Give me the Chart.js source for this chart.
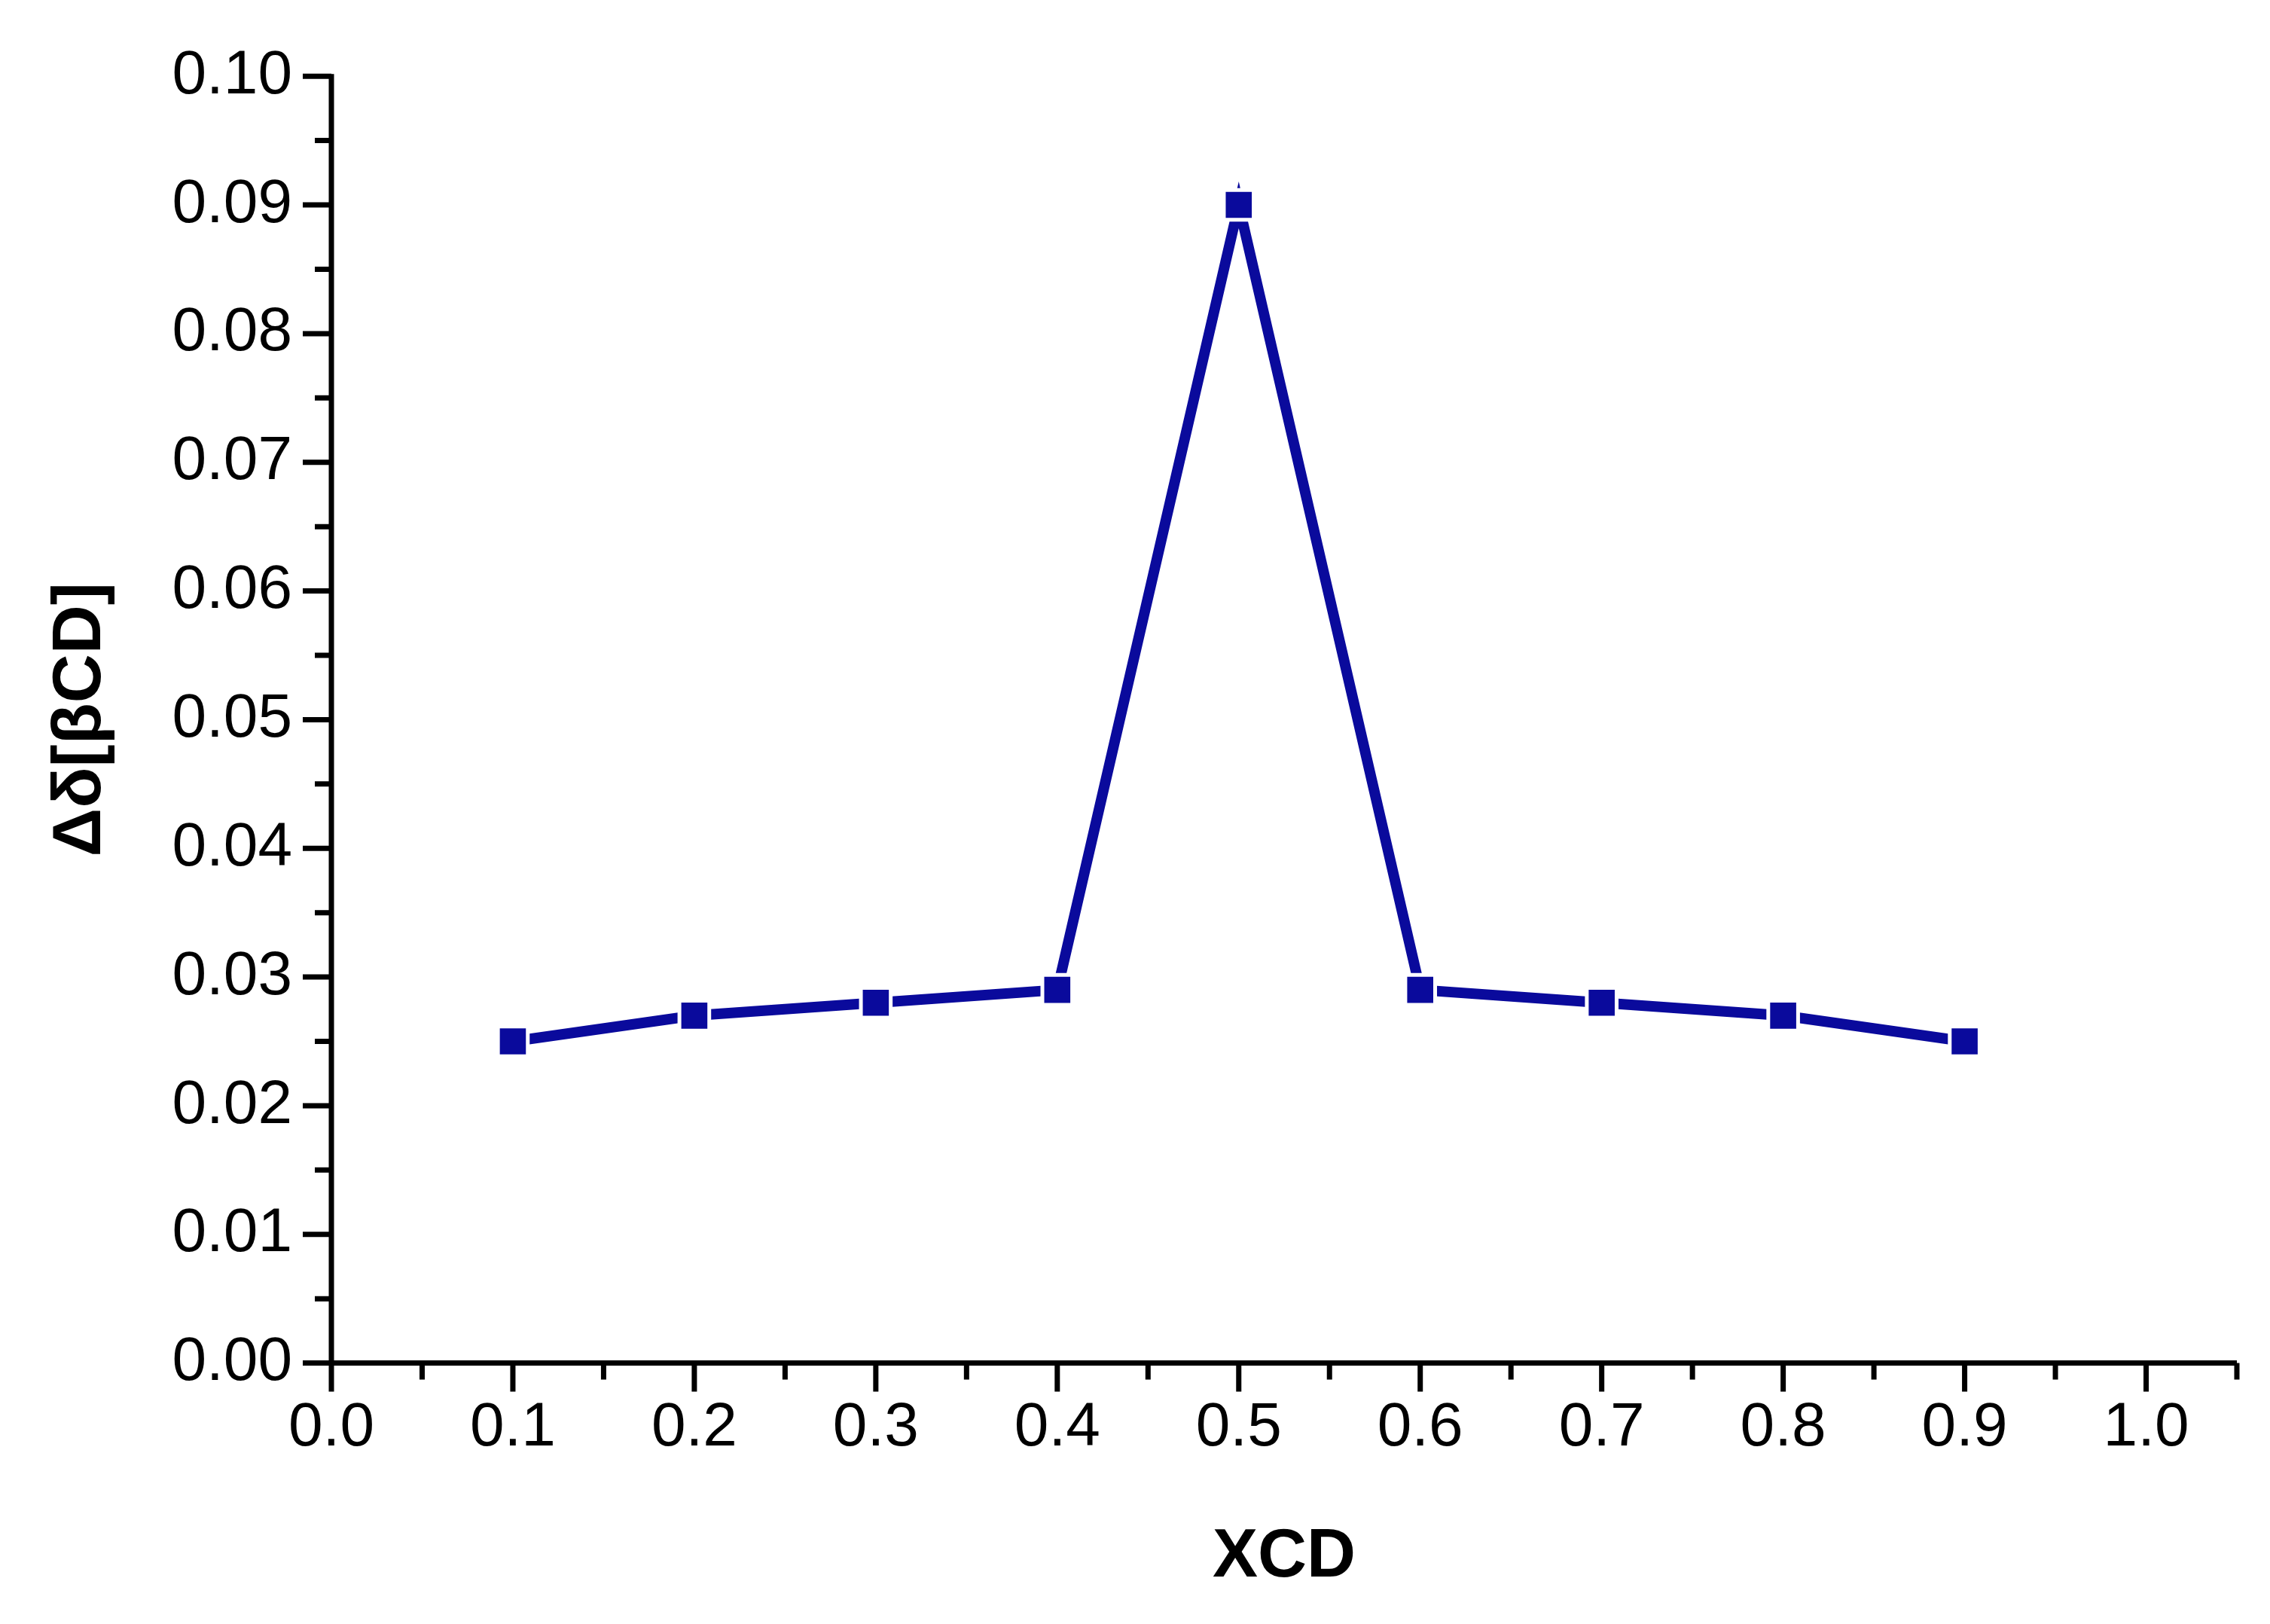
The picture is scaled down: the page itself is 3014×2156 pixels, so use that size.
<!DOCTYPE html>
<html>
<head>
<meta charset="utf-8">
<script src="https://cdn.jsdelivr.net/npm/chart.js@4/dist/chart.umd.min.js"></script>
<style>
  html, body { margin: 0; padding: 0; background: #fff; }
  #wrap { width: 3014px; height: 2156px; }
</style>
</head>
<body>
<div id="wrap"><canvas id="c"></canvas></div>
<script>
// mole fraction vs chemical shift change
const xcd = [0.1, 0.2, 0.3, 0.4, 0.5, 0.6, 0.7, 0.8, 0.9];
const deltaShift = [0.025, 0.027, 0.028, 0.029, 0.090, 0.029, 0.028, 0.027, 0.025];
const xTickLabels = ['0.0', '0.1', '0.2', '0.3', '0.4', '0.5', '0.6', '0.7', '0.8', '0.9', '1.0'];
const yTickLabels = ['0.00', '0.01', '0.02', '0.03', '0.04', '0.05', '0.06', '0.07', '0.08', '0.09', '0.10'];

const navy = '#0a0a9c';
const FONT = '"Liberation Sans", Arial, sans-serif';

// draws axis lines with major + minor ticks, outward
const axisTicks = {
    id: 'axisTicks',
    afterDraw(chart) {
        const ctx = chart.ctx;
        const xs = chart.scales.x, ys = chart.scales.y;
        const left = xs.left, bottom = ys.bottom;
        ctx.save();
        ctx.strokeStyle = '#000';
        ctx.lineWidth = 7;
        ctx.lineCap = 'butt';
        ctx.beginPath();
        ctx.moveTo(left, ys.top - 3);
        ctx.lineTo(left, bottom + 3);
        ctx.moveTo(left - 3, bottom);
        ctx.lineTo(xs.right, bottom);
        for (let i = 0; i <= 21; i++) {
            const px = xs.getPixelForValue(i * 0.05);
            if (px > xs.right + 1) break;
            ctx.moveTo(px, bottom);
            ctx.lineTo(px, bottom + (i % 2 === 0 ? 38 : 22));
        }
        for (let i = 0; i <= 20; i++) {
            const py = ys.getPixelForValue(i * 0.005);
            ctx.moveTo(left, py);
            ctx.lineTo(left - (i % 2 === 0 ? 38 : 22), py);
        }
        ctx.stroke();
        ctx.restore();
    }
};

new Chart(document.getElementById('c'), {
    type: 'line',
    data: {
        datasets: [{
            data: xcd.map((x, i) => ({ x: x, y: deltaShift[i] })),
            borderColor: navy,
            borderWidth: 14,
            pointStyle: 'rect',
            pointRadius: 28,
            pointBackgroundColor: navy,
            pointBorderColor: '#fff',
            pointBorderWidth: 5,
            tension: 0
        }]
    },
    options: {
        responsive: true, maintainAspectRatio: false,
        animation: false,
        layout: { padding: { top: 50, right: 44, bottom: 30, left: 50 } },
        plugins: { legend: { display: false }, tooltip: { enabled: false } },
        scales: {
            x: {
                type: 'linear', min: 0, max: 1.05,
                afterBuildTicks: s => { s.ticks = xTickLabels.map(v => ({ value: parseFloat(v) })); },
                ticks: {
                    callback: (v, i) => xTickLabels[i],
                    color: '#000', font: { family: FONT, size: 82 }, padding: 38, maxRotation: 0
                },
                grid: { display: false, drawTicks: false },
                border: { display: false },
                title: { display: true, text: 'XCD', color: '#000', font: { family: FONT, size: 90, weight: 'bold' }, padding: { top: 30 } }
            },
            y: {
                type: 'linear', min: 0, max: 0.10,
                afterBuildTicks: s => { s.ticks = yTickLabels.map(v => ({ value: parseFloat(v) })); },
                afterFit: s => { s.width = 390; },
                ticks: {
                    callback: (v, i) => yTickLabels[i],
                    color: '#000', font: { family: FONT, size: 82 }, padding: 52
                },
                grid: { display: false, drawTicks: false },
                border: { display: false },
                title: { display: true, text: 'Δδ[βCD]', color: '#000', font: { family: FONT, size: 90, weight: 'bold' }, padding: { bottom: 10 } }
            }
        }
    },
    plugins: [axisTicks]
});
</script>
</body>
</html>
